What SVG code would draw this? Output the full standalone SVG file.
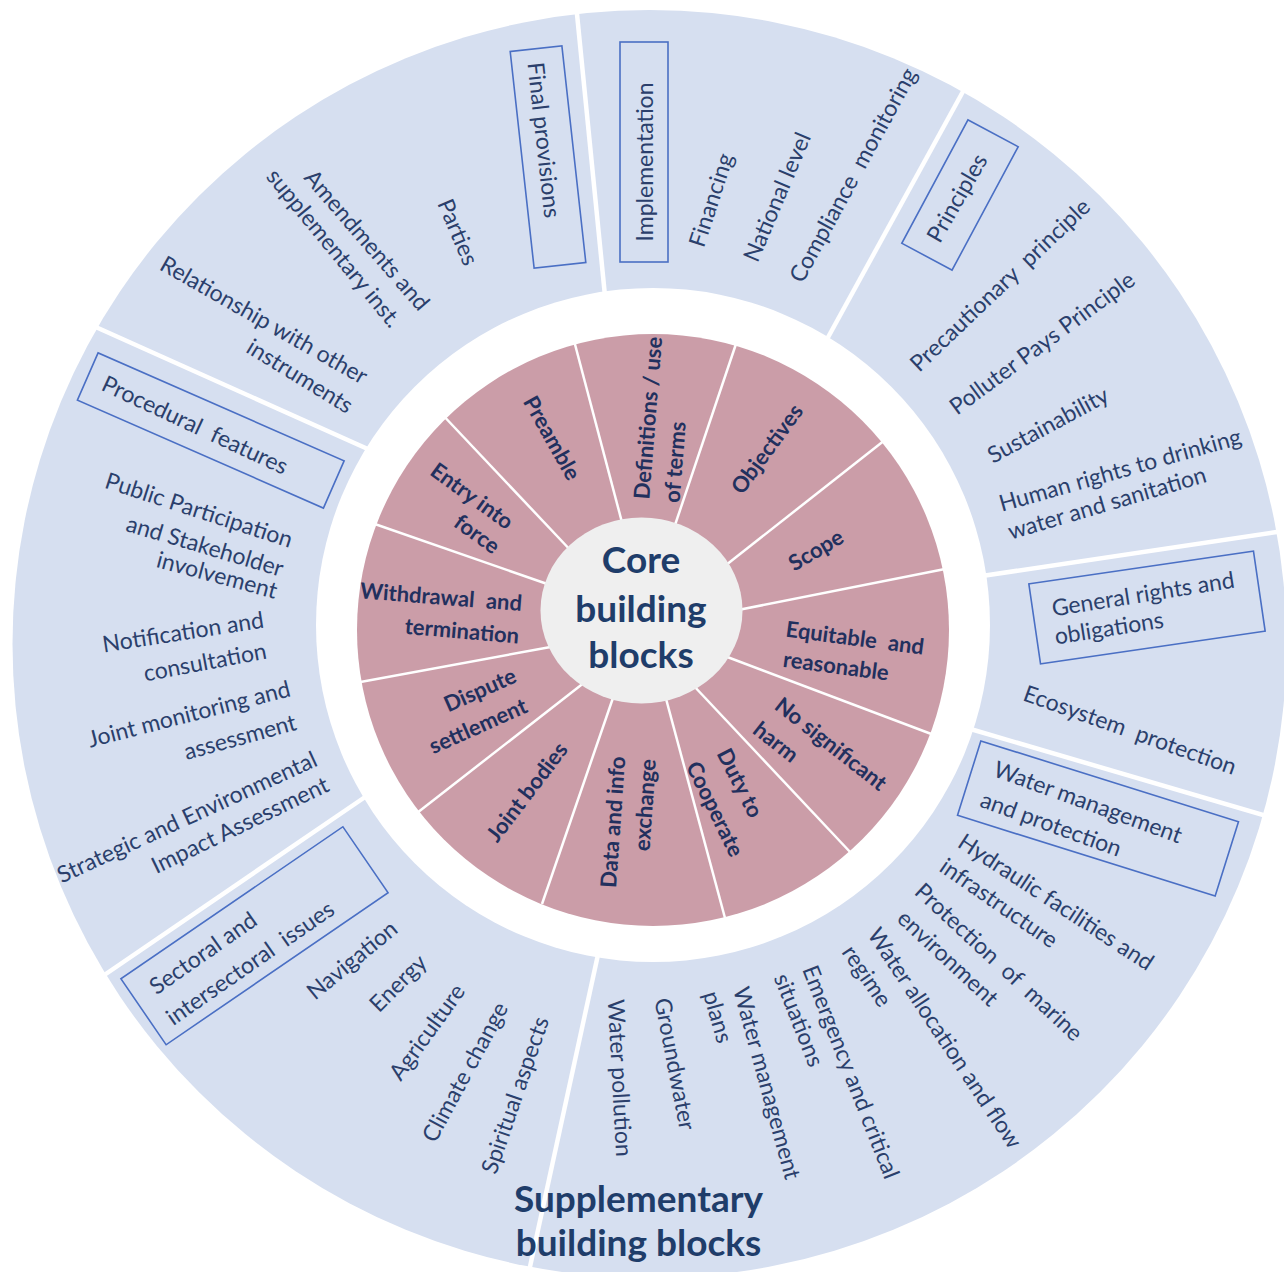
<svg xmlns="http://www.w3.org/2000/svg" width="1284" height="1272" viewBox="0 0 1284 1272">
<style>
text{font-family:Lato,"Liberation Sans",sans-serif;text-anchor:middle}
.o{font-size:23px;fill:#2B3F6C}
.p{font-size:22px;font-weight:700;fill:#22305E}
.c{font-size:37px;font-weight:700;fill:#1F3D6A}
.ws{word-spacing:6px}
.box{fill:none;stroke:#4A6FC4;stroke-width:1.6}
.sepO{stroke:#fff;stroke-width:4.5}
.sepI{stroke:#fff;stroke-width:2.5}
</style>
<rect width="1284" height="1272" fill="#fff"/>
<g id="rings">
<ellipse cx="649.5" cy="644" rx="637" ry="634" fill="#D6DFF0"/>
<circle cx="653" cy="625" r="337" fill="#fff"/>
<circle cx="653" cy="630" r="296" fill="#CB9DA8"/>
</g>
<g id="connectors">
<line class="sepO" x1="89" y1="324" x2="370" y2="450"/>
<line class="sepO" x1="576" y1="4" x2="605" y2="296"/>
<line class="sepO" x1="966" y1="86" x2="826" y2="341"/>
<line class="sepO" x1="1290" y1="530" x2="982" y2="576"/>
<line class="sepO" x1="967" y1="728" x2="1280" y2="820"/>
<line class="sepO" x1="599" y1="950" x2="528" y2="1276"/>
<line class="sepO" x1="368" y1="795" x2="97" y2="980"/>
<line class="sepI" x1="624" y1="530" x2="572" y2="333"/>
<line class="sepI" x1="673" y1="531" x2="739" y2="335"/>
<line class="sepI" x1="721" y1="569" x2="890" y2="436"/>
<line class="sepI" x1="733" y1="611" x2="950" y2="568"/>
<line class="sepI" x1="722" y1="655" x2="934" y2="735"/>
<line class="sepI" x1="693" y1="685" x2="851" y2="853"/>
<line class="sepI" x1="665" y1="695" x2="725" y2="918"/>
<line class="sepI" x1="614" y1="695" x2="542" y2="904"/>
<line class="sepI" x1="585" y1="682" x2="417" y2="813"/>
<line class="sepI" x1="556" y1="646" x2="355" y2="683"/>
<line class="sepI" x1="553" y1="586" x2="369" y2="522"/>
<line class="sepI" x1="574" y1="554" x2="439" y2="411"/>
</g>
<g id="core">
<ellipse cx="641.5" cy="610.5" rx="101" ry="93" fill="#EFEFEF"/>
<text class="c" x="641" y="573">Core</text>
<text class="c" x="641" y="622">building</text>
<text class="c" x="641" y="668">blocks</text>
</g>
<g id="core-segments">
<g id="preamble"><text class="p" transform="translate(552 438) rotate(60.6)" dy=".35em">Preamble</text></g>
<g id="definitions"><text class="p" transform="translate(648 418) rotate(-85.5)" dy=".35em">Definitions / use</text>
<text class="p" transform="translate(675 462) rotate(-85.5)" dy=".35em">of terms</text></g>
<g id="objectives"><text class="p" transform="translate(767 449) rotate(-53.7)" dy=".35em">Objectives</text></g>
<g id="scope"><text class="p" transform="translate(816 550) rotate(-30.5)" dy=".35em">Scope</text></g>
<g id="equitable"><text class="p ws" transform="translate(855 638) rotate(7.5)" dy=".35em">Equitable and</text>
<text class="p" transform="translate(836 666) rotate(7.5)" dy=".35em">reasonable</text></g>
<g id="no-harm"><text class="p" transform="translate(831 744) rotate(38.2)" dy=".35em">No significant</text>
<text class="p" transform="translate(776 742) rotate(38)" dy=".35em">harm</text></g>
<g id="duty"><text class="p" transform="translate(740 783) rotate(63)" dy=".35em">Duty to</text>
<text class="p" transform="translate(715 809) rotate(64)" dy=".35em">Cooperate</text></g>
<g id="data"><text class="p" transform="translate(613 822) rotate(-86)" dy=".35em">Data and info</text>
<text class="p" transform="translate(645 805) rotate(-86)" dy=".35em">exchange</text></g>
<g id="joint-bodies"><text class="p" transform="translate(527 792) rotate(-52.6)" dy=".35em">Joint bodies</text></g>
<g id="dispute"><text class="p" transform="translate(480 690) rotate(-24)" dy=".35em">Dispute</text>
<text class="p" transform="translate(478 726) rotate(-24)" dy=".35em">settlement</text></g>
<g id="withdrawal"><text class="p ws" transform="translate(441 597) rotate(4.5)" dy=".35em">Withdrawal and</text>
<text class="p" transform="translate(462 631) rotate(5)" dy=".35em">termination</text></g>
<g id="entry"><text class="p" transform="translate(472 496) rotate(36)" dy=".35em">Entry into</text>
<text class="p" transform="translate(477 534) rotate(36)" dy=".35em">force</text></g>
</g>
<g id="final-provisions">
<rect class="box" x="-109" y="-26" width="218" height="52" transform="translate(548 157) rotate(83.7)"/>
<text class="o" transform="translate(544 140) rotate(83.7)" dy=".35em">Final provisions</text>
<text class="o" transform="translate(458 232) rotate(67)" dy=".35em">Parties</text>
<text class="o" transform="translate(367 240) rotate(49.2)" dy=".35em">Amendments and</text>
<text class="o" transform="translate(334 248) rotate(50.6)" dy=".35em">supplementary inst.</text>
<text class="o" transform="translate(264 320) rotate(29.7)" dy=".35em">Relationship with other</text>
<text class="o" transform="translate(300 376) rotate(31.5)" dy=".35em">instruments</text>
</g>
<g id="implementation">
<rect class="box" x="620" y="42" width="48" height="220"/>
<text class="o" transform="translate(645 162) rotate(-90)" dy=".35em">Implementation</text>
<text class="o" transform="translate(711 200) rotate(-72)" dy=".35em">Financing</text>
<text class="o" transform="translate(777 197) rotate(-67)" dy=".35em">National level</text>
<text class="o ws" transform="translate(853 175) rotate(-61.4)" dy=".35em">Compliance monitoring</text>
</g>
<g id="principles">
<rect class="box" x="-70" y="-28.5" width="140" height="57" transform="translate(960 195) rotate(-61.8)"/>
<text class="o" transform="translate(957 198) rotate(-60)" dy=".35em">Principles</text>
<text class="o ws" transform="translate(1000 285) rotate(-43.6)" dy=".35em">Precautionary principle</text>
<text class="o" transform="translate(1042 343) rotate(-36.4)" dy=".35em">Polluter Pays Principle</text>
<text class="o" transform="translate(1048 425) rotate(-28.4)" dy=".35em">Sustainability</text>
<text class="o" transform="translate(1120 470) rotate(-15.8)" dy=".35em">Human rights to drinking</text>
<text class="o" transform="translate(1107 503) rotate(-16.4)" dy=".35em">water and sanitation</text>
</g>
<g id="general-rights">
<rect class="box" x="-113.5" y="-40.5" width="227" height="81" transform="translate(1147 607.5) rotate(-8.3)"/>
<text class="o" transform="translate(1143 594) rotate(-9)" dy=".35em">General rights and</text>
<text class="o" transform="translate(1109 628) rotate(-9)" dy=".35em">obligations</text>
<text class="o ws" transform="translate(1130 730) rotate(19.6)" dy=".35em">Ecosystem protection</text>
</g>
<g id="water-management">
<rect class="box" x="-135" y="-39" width="270" height="78" transform="translate(1098 818.5) rotate(17.4)"/>
<text class="o" transform="translate(1088 802) rotate(20)" dy=".35em">Water management</text>
<text class="o" transform="translate(1051 824) rotate(20)" dy=".35em">and protection</text>
<text class="o" transform="translate(1056 902) rotate(33.3)" dy=".35em">Hydraulic facilities and</text>
<text class="o" transform="translate(999 903) rotate(34.9)" dy=".35em">infrastructure</text>
<text class="o ws" transform="translate(999 962) rotate(42.9)" dy=".35em">Protection of marine</text>
<text class="o" transform="translate(948 958) rotate(43)" dy=".35em">environment</text>
<text class="o" transform="translate(945 1038) rotate(56.5)" dy=".35em">Water allocation and flow</text>
<text class="o" transform="translate(867 976) rotate(55.6)" dy=".35em">regime</text>
<text class="o" transform="translate(851 1072) rotate(68.5)" dy=".35em">Emergency and critical</text>
<text class="o" transform="translate(799 1020) rotate(68.4)" dy=".35em">situations</text>
<text class="o" transform="translate(767 1083) rotate(74.7)" dy=".35em">Water management</text>
<text class="o" transform="translate(718 1017) rotate(74)" dy=".35em">plans</text>
<text class="o" transform="translate(675 1064) rotate(79)" dy=".35em">Groundwater</text>
<text class="o" transform="translate(620 1078) rotate(87)" dy=".35em">Water pollution</text>
</g>
<g id="sectoral">
<rect class="box" x="-134.5" y="-40" width="269" height="80" transform="translate(254.5 935.75) rotate(-34.4)"/>
<text class="o" transform="translate(203 953) rotate(-35)" dy=".35em">Sectoral and</text>
<text class="o ws" transform="translate(250 963) rotate(-34.8)" dy=".35em">intersectoral issues</text>
<text class="o" transform="translate(352 960) rotate(-39.4)" dy=".35em">Navigation</text>
<text class="o" transform="translate(398 983) rotate(-45)" dy=".35em">Energy</text>
<text class="o" transform="translate(427 1032) rotate(-54.2)" dy=".35em">Agriculture</text>
<text class="o" transform="translate(465 1072) rotate(-61.6)" dy=".35em">Climate change</text>
<text class="o" transform="translate(515 1095) rotate(-71)" dy=".35em">Spiritual aspects</text>
</g>
<g id="procedural">
<rect class="box" x="-134.35" y="-25.75" width="268.7" height="51.5" transform="translate(210.75 430.5) rotate(23.7)"/>
<text class="o ws" transform="translate(195 425) rotate(25)" dy=".35em">Procedural features</text>
<text class="o" transform="translate(199 510) rotate(18)" dy=".35em">Public Participation</text>
<text class="o" transform="translate(205 546) rotate(16.5)" dy=".35em">and Stakeholder</text>
<text class="o" transform="translate(217 575) rotate(15)" dy=".35em">involvement</text>
<text class="o" transform="translate(183 632) rotate(-8.8)" dy=".35em">Notification and</text>
<text class="o" transform="translate(205 662) rotate(-10.7)" dy=".35em">consultation</text>
<text class="o" transform="translate(189 714) rotate(-14.4)" dy=".35em">Joint monitoring and</text>
<text class="o" transform="translate(240 737) rotate(-15.3)" dy=".35em">assessment</text>
<text class="o" transform="translate(187 817) rotate(-24.7)" dy=".35em">Strategic and Environmental</text>
<text class="o" transform="translate(240 825) rotate(-25.7)" dy=".35em">Impact Assessment</text>
</g>
<g id="supplementary-title">
<text class="c" x="638.5" y="1212">Supplementary</text>
<text class="c" x="638.5" y="1256">building blocks</text>
</g>
</svg>
